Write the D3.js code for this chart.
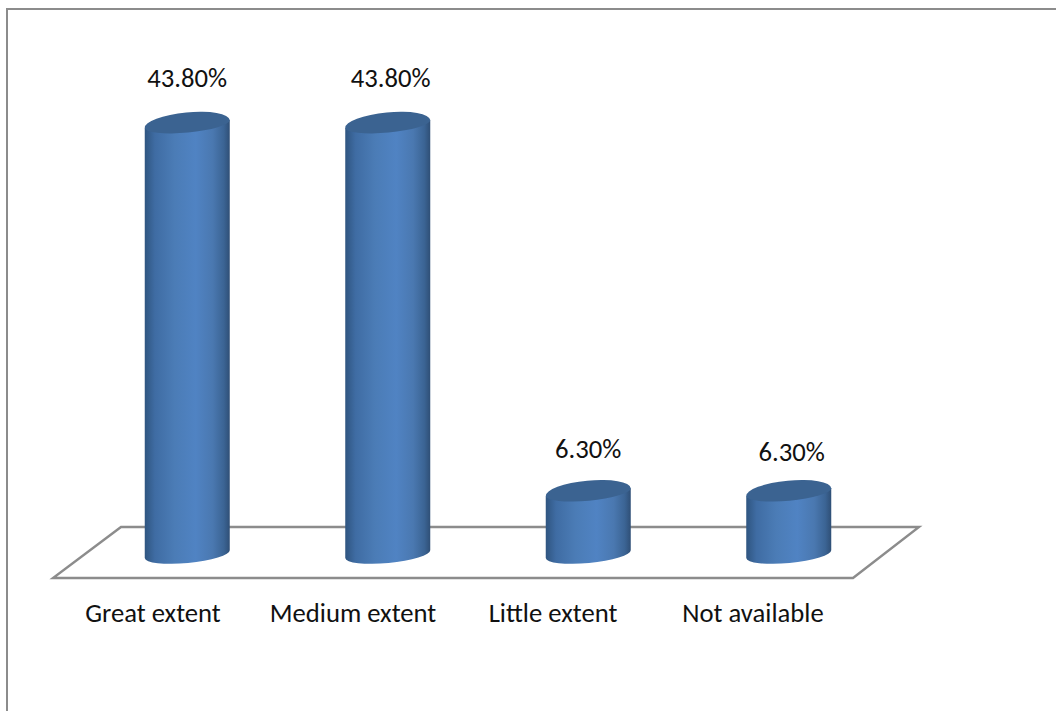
<!DOCTYPE html>
<html>
<head>
<meta charset="utf-8">
<style>
    html, body { margin: 0; padding: 0; background: #fff; }
    svg { display: block; }
    text { font-family: Carlito, Lato, sans-serif; font-size: 26.67px; fill: #111; }
</style>
</head>
<body>
<div class="chart"></div>
<script src="https://cdn.jsdelivr.net/npm/d3@7"></script>
<script>
var categories = ['Great extent', 'Medium extent', 'Little extent', 'Not available']
var values = [43.8, 43.8, 6.3, 6.3]
var valueLabels = ['43.80%', '43.80%', '6.30%', '6.30%']

var width = 1056
var height = 711

// floor parallelogram
var floorFront = 578
var floorBack = 527
var depth = 68

var rx = 42.5
var ryUp = 11.5
var ryDown = 8.5
var tilt = -5.4
var tiltDy = 4

// the labels are not quite centred in the original
var labelDx = [0, 3, 0, 3]
var labelDy = [0, 0, 2.5, 5.5]

var x = d3.scaleBand().domain(categories).range([53, 853])
var xBar = d3.scaleBand().domain(categories).range([87, 889])
var y = d3.scaleLinear().domain([0, 43.8]).range([554, 124])

var canvas = d3.select('.chart').append('svg')
    .attr('width', width)
    .attr('height', height)

var defs = canvas.append('defs')
var grad = defs.append('linearGradient')
    .attr('id', 'body')
    .attr('x1', 0).attr('x2', 1).attr('y1', 0).attr('y2', 0)
grad.selectAll('stop')
    .data([[0, '#2f5580'], [0.12, '#3f6ca3'], [0.35, '#4b7cb6'], [0.6, '#5083c3'], [0.8, '#4a78b0'], [0.93, '#3b6494'], [1, '#2f4f76']])
    .enter().append('stop')
    .attr('offset', function (d) { return d[0] })
    .attr('stop-color', function (d) { return d[1] })

// frame, only top and left show
canvas.append('path')
    .attr('d', 'M7,' + height + 'V9H' + width)
    .attr('fill', 'none')
    .attr('stroke', '#8c8c8c')
    .attr('stroke-width', 2)

var x0 = x.range()[0]
var x1 = x.range()[1]
canvas.append('path')
    .attr('d', 'M' + x0 + ',' + floorFront + 'L' + x1 + ',' + floorFront + 'L' + (x1 + depth - 2) + ',' + floorBack + 'L' + (x0 + depth) + ',' + floorBack + 'Z')
    .attr('fill', 'none')
    .attr('stroke', '#8c8c8c')
    .attr('stroke-width', 2.4)

function cx(d) { return xBar(d) + xBar.bandwidth() / 2 }

var bars = canvas.selectAll('.bar')
    .data(categories)
    .enter().append('g')
    .attr('class', 'bar')

bars.append('path')
    .attr('fill', 'url(#body)')
    .attr('d', function (d, i) {
        var c = cx(d)
        var yt = y(values[i])
        var yb = y(0)
        return 'M' + (c - rx) + ',' + (yt + tiltDy)
            + 'L' + (c - rx) + ',' + (yb + tiltDy)
            + 'A' + rx + ',' + (ryDown + 0.5) + ' ' + tilt + ' 0 0 ' + (c + rx) + ',' + (yb - tiltDy)
            + 'L' + (c + rx) + ',' + (yt - tiltDy)
            + 'Z'
    })

// lid is a bit lopsided, so two arcs and not an ellipse
bars.append('path')
    .attr('fill', '#3b6391')
    .attr('d', function (d, i) {
        var c = cx(d)
        var yt = y(values[i])
        return 'M' + (c - rx) + ',' + (yt + tiltDy)
            + 'A' + rx + ',' + ryUp + ' ' + tilt + ' 0 1 ' + (c + rx) + ',' + (yt - tiltDy)
            + 'A' + rx + ',' + ryDown + ' ' + tilt + ' 0 1 ' + (c - rx) + ',' + (yt + tiltDy)
            + 'Z'
    })

bars.append('text')
    .attr('text-anchor', 'middle')
    .attr('x', function (d, i) { return cx(d) + labelDx[i] })
    .attr('y', function (d, i) { return y(values[i]) - 37 + labelDy[i] })
    .text(function (d, i) { return valueLabels[i] })

canvas.selectAll('.cat')
    .data(categories)
    .enter().append('text')
    .attr('class', 'cat')
    .attr('text-anchor', 'middle')
    .attr('x', function (d) { return x(d) + x.bandwidth() / 2 })
    .attr('y', 622)
    .text(function (d) { return d })
</script>
</body>
</html>
